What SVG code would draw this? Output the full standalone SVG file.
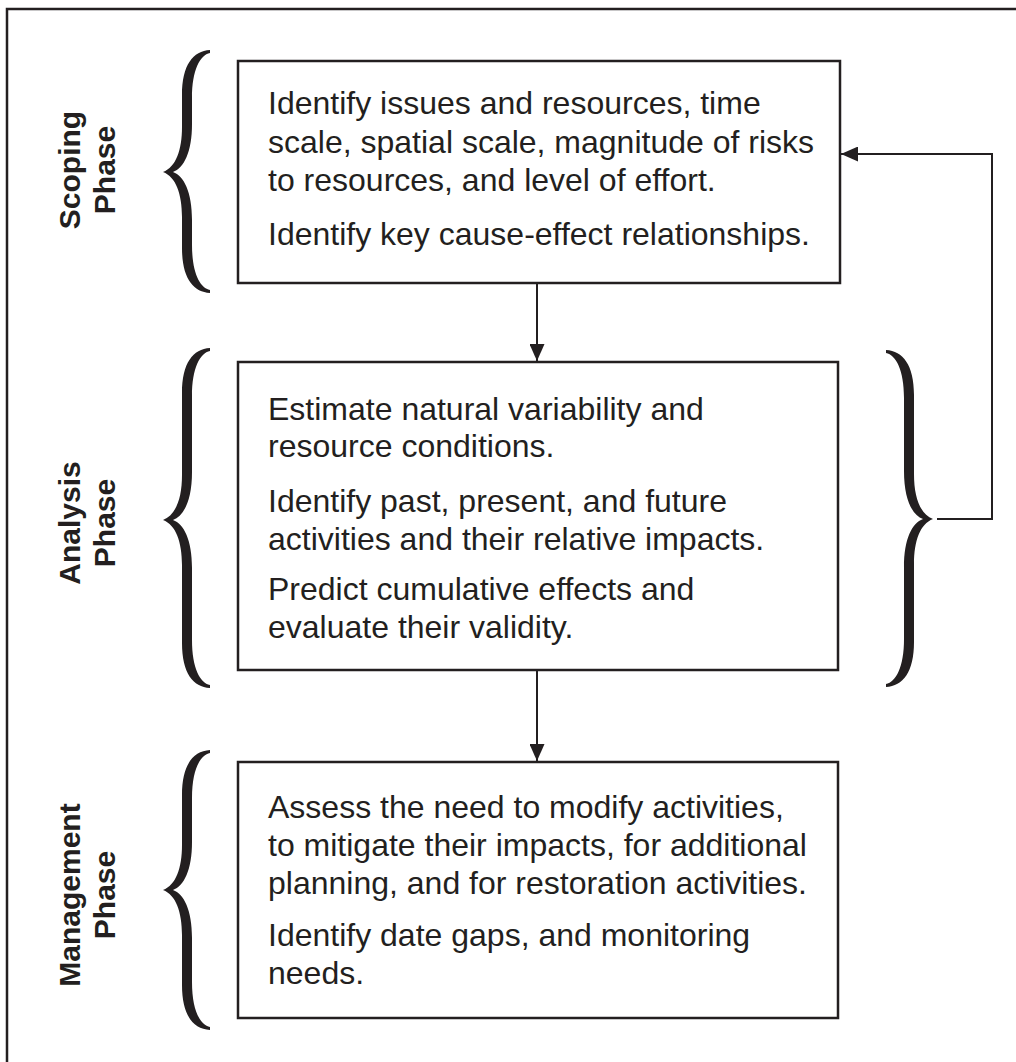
<svg xmlns="http://www.w3.org/2000/svg" width="1016" height="1062" viewBox="0 0 1016 1062">
<style>
.frame{fill:none;stroke:#231f20;stroke-width:2.5}
.box{fill:#fff;stroke:#231f20;stroke-width:2.5}
.conn{fill:none;stroke:#231f20;stroke-width:2}
.brace{fill:#231f20;stroke:none}
.t{font-family:"Liberation Sans",Arial,sans-serif;font-size:32px;fill:#231f20}
.ph{font-family:"Liberation Sans",Arial,sans-serif;font-size:30px;font-weight:bold;fill:#231f20;text-anchor:middle}
</style>
<defs>
<marker id="arr" viewBox="0 0 17 15" refX="17" refY="7.5" markerWidth="17" markerHeight="15" markerUnits="userSpaceOnUse" orient="auto">
<path d="M0,0 L17,7.5 L0,15 Z" fill="#231f20"/>
</marker>
</defs>
<path class="frame" d="M7,1064 L7,9 L1020,9"/>

<g id="scoping-label">
<text class="ph" transform="translate(80,170) rotate(-90)">Scoping</text>
<text class="ph" transform="translate(115,170) rotate(-90)">Phase</text>
<path class="brace" transform="translate(163,172)" d="M0,0 C13,-5 19,-22 19,-45 L19,-77 C19,-107 30,-121 47,-122 L47,-119 C37,-117 29,-102 29,-74 L29,-48 C29,-20 21,-4 10,0 C21,4 29,20 29,48 L29,73 C29,101 37,116 47,118 L47,121 C30,120 19,106 19,76 L19,45 C19,22 13,5 0,0 Z"/>
</g>

<g id="analysis-label">
<text class="ph" transform="translate(80,523) rotate(-90)">Analysis</text>
<text class="ph" transform="translate(115,523) rotate(-90)">Phase</text>
<path class="brace" transform="translate(163,520)" d="M0,0 C13,-5 19,-22 19,-45 L19,-127 C19,-157 30,-171 47,-172 L47,-169 C37,-167 29,-152 29,-124 L29,-48 C29,-20 21,-4 10,0 C21,4 29,20 29,48 L29,120 C29,148 37,163 47,165 L47,168 C30,167 19,153 19,123 L19,45 C19,22 13,5 0,0 Z"/>
</g>

<g id="management-label">
<text class="ph" transform="translate(80,895) rotate(-90)">Management</text>
<text class="ph" transform="translate(115,895) rotate(-90)">Phase</text>
<path class="brace" transform="translate(163,890)" d="M0,0 C13,-5 19,-22 19,-45 L19,-95 C19,-125 30,-139 47,-140 L47,-137 C37,-135 29,-120 29,-92 L29,-48 C29,-20 21,-4 10,0 C21,4 29,20 29,48 L29,92 C29,120 37,135 47,137 L47,140 C30,139 19,125 19,95 L19,45 C19,22 13,5 0,0 Z"/>
</g>

<g id="right-brace">
<path class="brace" transform="translate(933,519) scale(-1,1)" d="M0,0 C13,-5 19,-22 19,-45 L19,-124 C19,-154 30,-168 47,-169 L47,-166 C37,-164 29,-149 29,-121 L29,-48 C29,-20 21,-4 10,0 C21,4 29,20 29,48 L29,120 C29,148 37,163 47,165 L47,168 C30,167 19,153 19,123 L19,45 C19,22 13,5 0,0 Z"/>
</g>

<g id="scoping-box">
<rect class="box" x="238" y="61" width="602" height="222"/>
<text class="t" x="268" y="114">Identify issues and resources, time</text>
<text class="t" x="268" y="153">scale, spatial scale, magnitude of risks</text>
<text class="t" x="268" y="191">to resources, and level of effort.</text>
<text class="t" x="268" y="245">Identify key cause-effect relationships.</text>
</g>

<g id="analysis-box">
<rect class="box" x="238" y="362" width="600" height="308"/>
<text class="t" x="268" y="420">Estimate natural variability and</text>
<text class="t" x="268" y="457">resource conditions.</text>
<text class="t" x="268" y="512">Identify past, present, and future</text>
<text class="t" x="268" y="550">activities and their relative impacts.</text>
<text class="t" x="268" y="600">Predict cumulative effects and</text>
<text class="t" x="268" y="638">evaluate their validity.</text>
</g>

<g id="management-box">
<rect class="box" x="238" y="762" width="600" height="256"/>
<text class="t" x="268" y="818">Assess the need to modify activities,</text>
<text class="t" x="268" y="856">to mitigate their impacts, for additional</text>
<text class="t" x="268" y="894">planning, and for restoration activities.</text>
<text class="t" x="268" y="946">Identify date gaps, and monitoring</text>
<text class="t" x="268" y="984">needs.</text>
</g>

<g id="connectors">
<path class="conn" d="M537,283 L537,361" marker-end="url(#arr)"/>
<path class="conn" d="M537,670 L537,761" marker-end="url(#arr)"/>
<path class="conn" d="M937,519 L992,519 L992,154 L841,154" marker-end="url(#arr)"/>
</g>
</svg>
